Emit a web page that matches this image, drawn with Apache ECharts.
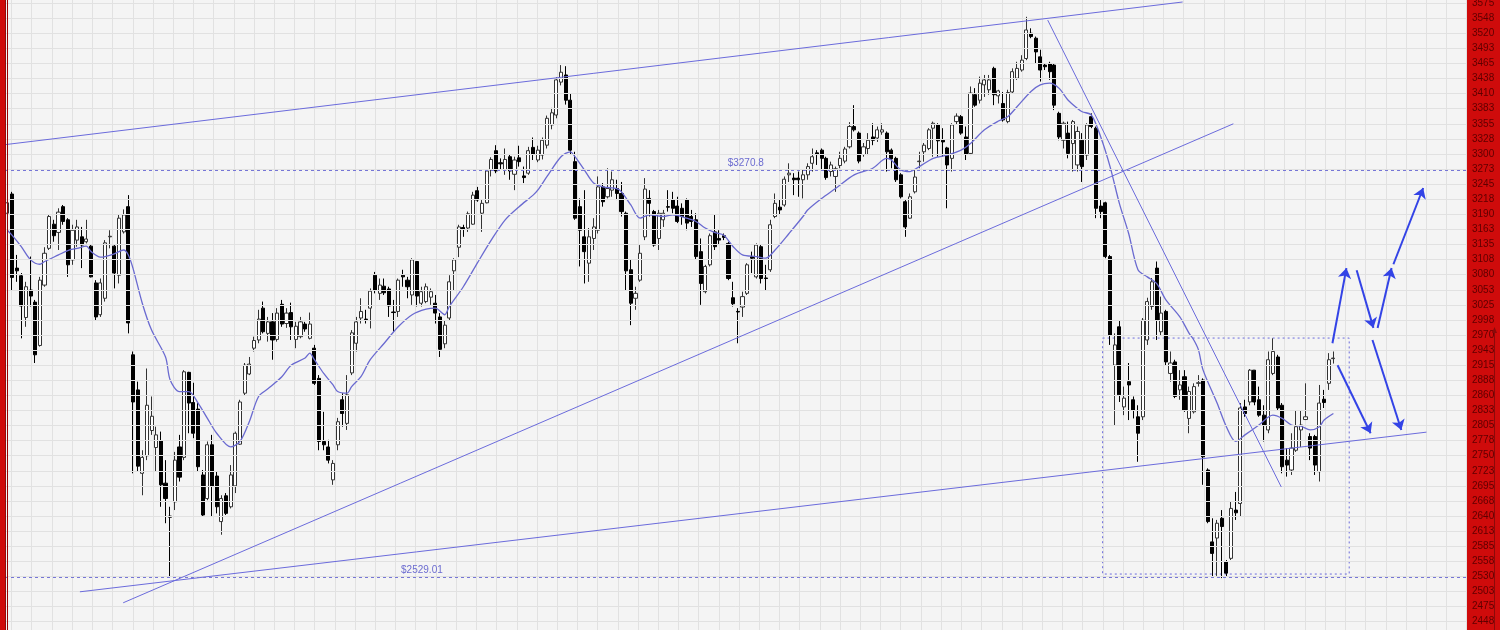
<!DOCTYPE html>
<html>
<head>
<meta charset="utf-8">
<script src="https://cdn.jsdelivr.net/npm/echarts@6/dist/echarts.min.js"></script>
<style>
  html, body { margin: 0; padding: 0; background: #f4f4f4; }
  #chart { width: 1500px; height: 630px; }
</style>
</head>
<body>
<div id="chart"></div>
<script>
// daily candles, [open, close, low, high]
const candles = [
  [3192,3211,3180,3216],[3227,3075,3052,3231],[3092,3087,3067,3116],[3078,3023,2964,3083],[3002,3058,2985,3067],
  [3052,3041,3022,3113],[3030,2934,2919,3034],[2951,3070,2949,3076],[3061,3119,3058,3130],[3128,3186,3125,3189],
  [3172,3151,3140,3180],[3157,3194,3125,3201],[3204,3177,3171,3207],[3180,3098,3076,3183],[3107,3161,3098,3171],
  [3143,3167,3131,3180],[3149,3134,3092,3167],[3140,3145,3137,3180],[3132,3076,3075,3134],[3065,3003,2997,3070],
  [3007,3065,3003,3073],[3037,3138,3031,3143],[3149,3150,3128,3161],[3132,3083,3055,3134],[3079,3183,3064,3189],
  [3158,3189,3155,3199],[3204,2992,2973,3225],[2934,2848,2718,2940],[2870,2731,2721,2885],[2718,2747,2678,2760],
  [2750,2842,2742,2909],[2796,2822,2788,2858],[2765,2788,2721,2803],[2777,2697,2657,2794],[2700,2672,2627,2742],
  [2640,2638,2529.01,2657],[2666,2742,2651,2757],[2766,2711,2703,2788],[2747,2903,2742,2906],[2902,2846,2791,2903],
  [2847,2791,2782,2883],[2835,2730,2721,2846],[2715,2642,2639,2724],[2672,2770,2669,2776],[2770,2694,2639,2788],
  [2713,2657,2645,2721],[2630,2672,2606,2678],[2677,2645,2642,2682],[2657,2715,2654,2733],[2695,2791,2682,2794],
  [2771,2848,2770,2852],[2864,2915,2859,2919],[2899,2917,2897,2930],[2946,2960,2940,2967],[2961,2999,2955,3016],
  [3019,2976,2973,3031],[2973,2994,2958,3003],[2994,2961,2925,3010],[2962,3010,2958,3019],[3026,2990,2985,3034],
  [2991,3010,2983,3019],[3011,2985,2961,3029],[2962,2986,2946,2994],[2967,2994,2964,3003],[2990,2981,2976,2994],
  [2964,2990,2962,3011],[2946,2882,2879,2952],[2891,2776,2760,2897],[2776,2770,2760,2830],[2766,2742,2736,2779],
  [2706,2736,2697,2742],[2770,2812,2760,2819],[2852,2827,2803,2864],[2809,2861,2797,2897],[2901,2974,2897,2979],
  [2955,2994,2940,3003],[3001,3013,2991,3037],[2999,2998,2991,3016],[3019,3050,2982,3055],[3079,3052,3046,3085],
  [3046,3061,3034,3073],[3059,3047,3043,3073],[3054,3023,3003,3058],[3012,3011,2976,3034],[3013,3070,3003,3073],
  [3079,3076,3058,3089],[3070,3058,3037,3076],[3043,3107,3025,3110],[3104,3041,3022,3105],[3028,3049,3022,3058],
  [3031,3058,3028,3064],[3039,3049,3025,3055],[3028,3010,2991,3043],[3003,2944,2930,3010],[2954,2988,2946,2997],
  [3001,3067,2997,3079],[3087,3107,3052,3110],[3130,3167,3112,3171],[3166,3163,3149,3171],[3165,3191,3158,3195],
  [3172,3225,3171,3231],[3233,3216,3213,3240],[3192,3210,3158,3216],[3211,3269,3210,3271],[3271,3290,3259,3294],
  [3306,3269,3265,3316],[3284,3282,3271,3292],[3271,3290,3262,3310],[3295,3269,3253,3300],[3263,3289,3234,3295],
  [3293,3286,3277,3315],[3260,3257,3247,3277],[3265,3306,3262,3313],[3312,3299,3289,3330],[3289,3307,3285,3315],
  [3298,3325,3290,3330],[3316,3365,3310,3370],[3353,3375,3345,3384],[3371,3435,3365,3440],[3431,3449,3425,3462],
  [3444,3398,3390,3460],[3398,3307,3300,3410],[3286,3183,3180,3304],[3204,3161,3095,3219],[3149,3122,3064,3234],
  [3101,3149,3067,3165],[3146,3167,3125,3183],[3161,3240,3155,3259],[3240,3213,3204,3247],[3222,3237,3219,3274],
  [3234,3253,3222,3268],[3237,3228,3216,3253],[3228,3195,3186,3249],[3192,3087,3052,3195],[3089,3028,2988,3107],
  [3037,3046,3016,3058],[3070,3119,3067,3134],[3149,3236,3143,3256],[3219,3210,3186,3234],[3195,3134,3131,3198],
  [3146,3192,3125,3198],[3180,3192,3167,3198],[3204,3203,3195,3234],[3216,3201,3192,3231],[3205,3177,3174,3222],
  [3201,3186,3171,3210],[3216,3174,3161,3219],[3186,3177,3167,3198],[3180,3113,3107,3192],[3122,3064,3025,3146],
  [3049,3095,3046,3098],[3098,3151,3095,3155],[3158,3131,3125,3189],[3146,3143,3134,3161],[3151,3148,3143,3155],
  [3137,3073,3070,3140],[3038,3027,3022,3067],[3013,3012,2955,3019],[3021,3040,3003,3049],[3046,3098,3043,3101],
  [3113,3110,3083,3122],[3076,3134,3073,3137],[3131,3073,3064,3134],[3074,3073,3052,3098],[3089,3171,3085,3180],
  [3186,3210,3183,3228],[3203,3198,3189,3216],[3207,3254,3204,3259],[3262,3265,3249,3283],[3256,3253,3225,3265],
  [3256,3253,3222,3268],[3253,3262,3219,3271],[3262,3277,3253,3283],[3283,3295,3268,3310],[3302,3299,3280,3307],
  [3307,3292,3271,3310],[3292,3257,3253,3295],[3268,3280,3259,3286],[3259,3273,3231,3277],[3279,3292,3274,3304],
  [3287,3309,3283,3313],[3313,3350,3310,3358],[3350,3344,3341,3389],[3338,3287,3283,3341],[3299,3313,3295,3320],
  [3310,3325,3298,3338],[3331,3325,3316,3356],[3329,3344,3322,3350],[3340,3344,3335,3356],[3338,3304,3268,3341],
  [3307,3291,3274,3310],[3292,3253,3249,3295],[3262,3222,3219,3265],[3213,3167,3149,3216],[3183,3222,3182,3228],
  [3231,3258,3228,3271],[3286,3287,3274,3304],[3304,3316,3286,3320],[3310,3344,3307,3347],[3347,3356,3295,3359],
  [3353,3324,3295,3356],[3325,3322,3295,3347],[3311,3280,3201,3313],[3292,3353,3268,3356],[3359,3369,3353,3374],
  [3368,3338,3335,3371],[3331,3299,3289,3350],[3301,3411,3298,3423],[3408,3389,3386,3420],[3398,3429,3392,3441],
  [3426,3435,3404,3444],[3417,3435,3408,3444],[3456,3408,3389,3459],[3406,3415,3392,3417],[3392,3362,3359,3413],
  [3359,3412,3356,3417],[3413,3450,3411,3456],[3438,3456,3435,3468],[3453,3471,3450,3480],[3474,3526,3471,3550],
  [3520,3514,3511,3529],[3511,3486,3465,3514],[3477,3453,3432,3490],[3462,3459,3453,3465],[3465,3450,3435,3468],
  [3462,3389,3380,3465],[3374,3331,3325,3377],[3325,3356,3310,3359],[3338,3301,3292,3359],[3319,3359,3268,3362],
  [3280,3341,3268,3350],[3325,3277,3249,3338],[3298,3353,3289,3356],[3368,3350,3347,3374],[3347,3201,3183,3350],
  [3205,3195,3183,3216],[3211,3113,3110,3213],[3113,2970,2952,3116],[2915,2952,2806,2973],[2985,2861,2848,2997],
  [2839,2855,2824,2876],[2885,2879,2815,2919],[2852,2833,2818,2858],[2821,2791,2739,2842],[2821,2997,2815,3001],
  [2961,3031,2952,3038],[3022,3067,3016,3074],[3092,2997,2961,3104],[2976,3010,2970,3040],[3013,2921,2915,3016],
  [2900,2919,2885,2940],[2921,2858,2855,2925],[2870,2879,2852,2906],[2894,2833,2830,2906],[2818,2867,2791,2876],
  [2830,2876,2827,2882],[2882,2883,2876,2897],[2888,2748,2697,2891],[2724,2630,2627,2727],[2593,2572,2530,2636],
  [2600,2627,2531,2633],[2636,2621,2527,2651],[2557,2536,2530,2560],[2563,2654,2560,2666],[2651,2646,2633,2684],
  [2663,2837,2639,2846],[2839,2827,2821,2852],[2848,2906,2842,2908],[2906,2848,2842,2906],[2852,2824,2821,2876],
  [2824,2806,2776,2842],[2797,2925,2791,2940],[2900,2940,2897,2964],[2930,2837,2833,2934],[2842,2730,2718,2846],
  [2742,2733,2712,2764],[2724,2764,2715,2791],[2760,2803,2757,2833],[2797,2806,2766,2833],[2816,2821,2815,2882],
  [2785,2764,2742,2791],[2785,2733,2715,2788],[2721,2846,2703,2879],[2853,2847,2837,2870],[2882,2925,2870,2937],
  [2927,2928,2918,2940]
];

// moving average, [day index, value]
const maPoints = [
  [0,3161],[1,3152],[3,3131],[5,3107],[7,3099],[8,3104],[11,3116],[13,3124],[15,3128],[17,3132],
  [18,3122],[20,3112],[21,3113],[23,3118],[25,3125],[26,3116],[27,3092],[29,3028],[31,2979],[34,2930],
  [35,2888],[37,2867],[39,2867],[41,2846],[43,2818],[45,2791],[48,2766],[50,2776],[52,2812],[54,2858],
  [56,2872],[59,2894],[61,2915],[64,2928],[65,2937],[66,2925],[68,2900],[70,2879],[71,2867],[73,2864],
  [74,2876],[76,2894],[78,2925],[81,2955],[84,2985],[87,3007],[90,3017],[92,3019],[94,3007],[95,3022],
  [98,3058],[101,3101],[104,3143],[107,3180],[110,3204],[113,3225],[114,3234],[116,3259],[119,3295],[121,3304],
  [122,3295],[124,3271],[126,3247],[128,3240],[131,3237],[132,3231],[134,3207],[136,3183],[138,3189],[141,3186],
  [143,3189],[146,3183],[148,3177],[150,3165],[152,3157],[154,3152],[156,3131],[158,3116],[161,3113],[163,3110],
  [165,3125],[168,3155],[171,3186],[172,3198],[175,3219],[178,3237],[182,3262],[186,3274],[189,3292],[190,3289],
  [192,3271],[194,3268],[196,3277],[199,3292],[202,3298],[205,3307],[207,3319],[210,3344],[213,3360],[215,3368],
  [217,3386],[220,3414],[222,3426],[224,3429],[226,3420],[228,3398],[230,3383],[231,3377],[233,3371],[235,3331],
  [237,3277],[239,3210],[241,3155],[243,3089],[245,3076],[247,3064],[249,3034],[252,3003],[254,2973],[255,2961],
  [256,2943],[257,2906],[260,2846],[262,2803],[264,2776],[266,2788],[269,2806],[272,2824],[274,2818],[276,2806],
  [278,2804],[280,2797],[282,2803],[283,2815],[285,2827]
];

const slots = 314;                 // day slots across the plot, the right part is left empty
const categories = [];
for (let i = 0; i < slots; i++) categories.push('D' + (i + 1));

const yMin = 2420, yMax = 3602.5, yStep = 27.5;
const resistance = 3270.8, support = 2529.01;
const resistanceLabelAt = 158.7, supportLabelAt = 89.1;

// drawn trend lines, [day index, price] pairs
const trendLines = [
  [[-0.5, 3317], [252.6, 3577]],
  [[15.6, 2502], [305, 2793]],
  [[24.9, 2482], [263.5, 3355]],
  [[223.6, 3544], [273.8, 2693]]
];
const arrows = [
  [[284.8, 2955], [287.8, 3092]],
  [[290, 3088], [293.6, 2983]],
  [[294.5, 2983], [297.5, 3092]],
  [[297.9, 3099], [304.3, 3238]],
  [[285.9, 2915], [293, 2791]],
  [[293.4, 2961], [299.6, 2797]]
];
const box = [[235.4, 2964.5], [288.4, 2534.4]];

// background grid: vertical lines every 20.2px, first one 11.5px from the left edge
const vGridStep = 20.21, vGridLeft = 11.5;

const chart = echarts.init(document.getElementById('chart'));
const annoColor = '#6b6bdc';
const gridLine = { color: '#e1e1e1', width: 1 };

chart.setOption({
  animation: false,
  backgroundColor: '#f4f4f4',
  textStyle: { fontFamily: 'Liberation Sans, Arial, sans-serif' },
  grid: [
    { left: 5, right: 34, top: -12, bottom: -6.8, show: false, outerBoundsMode: 'none', containLabel: false },
    { left: vGridLeft, right: 34, top: 0, bottom: 0, show: false, outerBoundsMode: 'none', containLabel: false }
  ],
  graphic: [
    { type: 'rect', right: 0, top: 0, z: -1, shape: { width: 34, height: 630 }, style: { fill: '#cf0b0b' } },
    { type: 'line', z: 50, shape: { x1: 1494.5, y1: 332, x2: 1494.5, y2: 630 }, style: { stroke: '#8a0a0a', lineWidth: 1 } },
    { type: 'polygon', z: 50, shape: { points: [[1492, 333], [1497, 333], [1494.5, 327]] }, style: { fill: '#8a0a0a' } },
    { type: 'rect', left: 0, top: 0, z: 50, shape: { width: 5, height: 630 }, style: { fill: '#cf0b0b' } },
    { type: 'rect', left: 5, top: 0, z: 50, shape: { width: 1, height: 630 }, style: { fill: '#8e0a0a' } }
  ],
  xAxis: [
    {
      type: 'category', data: categories, boundaryGap: true,
      axisLine: { show: false }, axisTick: { show: false }, axisLabel: { show: false }, splitLine: { show: false }
    },
    { type: 'value', min: -0.5, max: slots - 0.5, show: false },
    {
      type: 'value', gridIndex: 1, min: 0, max: 1500 - 34 - vGridLeft, interval: vGridStep,
      axisLine: { show: false }, axisTick: { show: false }, axisLabel: { show: false },
      splitLine: { show: true, lineStyle: gridLine }
    }
  ],
  yAxis: [
    {
      type: 'value', position: 'right', min: yMin, max: yMax, interval: yStep, z: 5,
      axisLine: { show: true, lineStyle: { color: '#9a0000' } },
      axisTick: { show: false },
      axisLabel: { color: '#5e0000', fontSize: 10, margin: 6, formatter: v => String(Math.ceil(v)) },
      splitLine: { lineStyle: gridLine }
    },
    { type: 'value', gridIndex: 1, min: 0, max: 1, show: false }
  ],
  series: [
    {
      type: 'candlestick', data: candles, barWidth: 3.6,
      itemStyle: { color: '#ffffff', color0: '#000000', borderColor: '#333333', borderColor0: '#000000', borderWidth: 1 }
    },
    {
      type: 'line', data: maPoints, showSymbol: false, smooth: 0.3, connectNulls: true,
      lineStyle: { color: '#6a6ad0', width: 1.3 }
    },
    {
      type: 'line', xAxisIndex: 1, data: [], silent: true,
      markLine: {
        silent: true, symbol: ['none', 'none'], label: { show: false },
        lineStyle: { color: annoColor, width: 1, type: 'solid' },
        data: trendLines.map(l => [{ coord: l[0] }, { coord: l[1] }]).concat(
          [resistance, support].map(v => [
            { coord: [-0.5, v], lineStyle: { type: [3, 3], color: '#7676d6' } },
            { coord: [slots - 0.5, v] }
          ])
        )
      },
      markPoint: {
        silent: true, symbol: 'circle', symbolSize: 0,
        label: { show: true, position: 'top', distance: 2, color: '#6b6bd0', fontSize: 10 },
        data: [
          { coord: [resistanceLabelAt, resistance], label: { formatter: '$3270.8' } },
          { coord: [supportLabelAt, support], label: { formatter: '$2529.01' } }
        ]
      },
      markArea: {
        silent: true,
        itemStyle: { color: 'rgba(0,0,0,0)', borderColor: '#6b6bdc', borderWidth: 1, borderType: [2, 3] },
        data: [[{ coord: box[0] }, { coord: box[1] }]]
      }
    },
    {
      type: 'line', xAxisIndex: 1, data: [], silent: true,
      markLine: {
        silent: true, symbol: ['none', 'arrow'], symbolSize: 10, label: { show: false },
        lineStyle: { color: '#3343e6', width: 2, type: 'solid' },
        data: arrows.map(a => [{ coord: a[0] }, { coord: a[1] }])
      }
    }
  ]
});
</script>
</body>
</html>
